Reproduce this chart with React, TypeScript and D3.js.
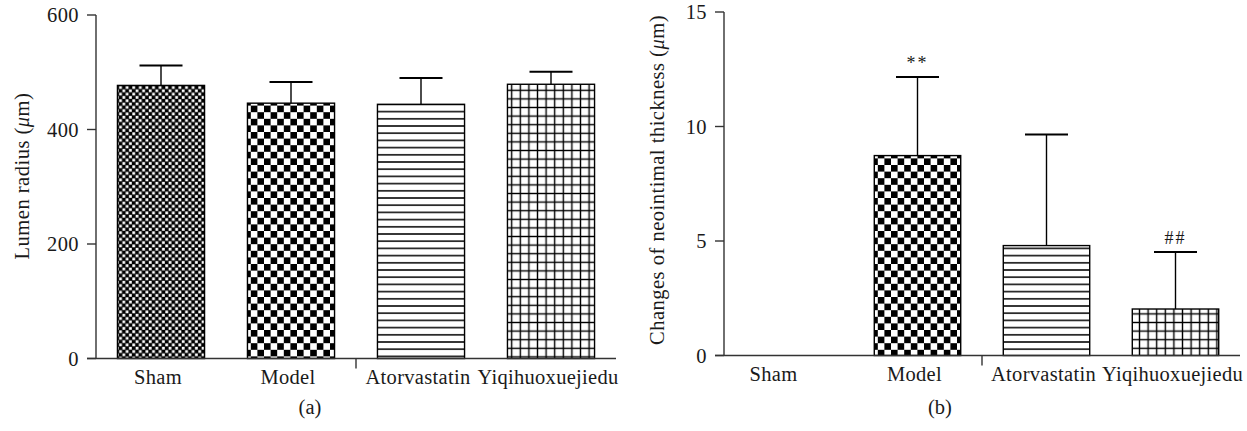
import React from "react";
import * as d3 from "d3";

// groups on the x axis
const categories = ["Sham", "Model", "Atorvastatin", "Yiqihuoxuejiedu"];

// (a) lumen radius, mean and upper error (um)
const lumenMean = [477, 446, 444, 479];
const lumenErr = [35, 37, 46, 22];
const lumenTicks = [0, 200, 400, 600];

// (b) changes of neointimal thickness, mean and upper error (um)
const thickMean = [0, 8.73, 4.8, 2.03];
const thickErr = [0, 3.43, 4.85, 2.49];
const thickTicks = [0, 5, 10, 15];
const thickMarks = ["", "**", "", "##"];

const patternIds = ["pSham", "pModel", "pAtor", "pYiqi"];

const FONT = "'Liberation Serif', 'Times New Roman', serif";
const INK = "#1a1a1a";
const FS = 20.5;

interface PanelProps {
  left: number;
  right: number;
  top: number;
  bottom: number;
  domainMax: number;
  ticks: number[];
  means: number[];
  errs: number[];
  marks?: string[];
  label: string;
  labelX: number;
  labelY: number;
  letter: string;
  letterX: number;
  firstLabelShift?: number;
}

const Panel: React.FC<PanelProps> = (p) => {
  const x = d3
    .scaleBand<string>()
    .domain(categories)
    .range([p.left, p.right])
    .paddingInner(0.33)
    .paddingOuter(0.165);
  const y = d3.scaleLinear().domain([0, p.domainMax]).range([p.bottom, p.top]);
  const bw = x.bandwidth();

  // small tick between Model and Atorvastatin
  const sepX = (x("Model")! + bw + x("Atorvastatin")!) / 2;

  return (
    <g fontFamily={FONT} fill={INK}>
      {/* bars */}
      {categories.map((c, i) => {
        const v = p.means[i];
        if (v <= 0) return null;
        const bx = x(c)!;
        const by = y(v);
        return (
          <rect
            key={c}
            x={bx}
            y={by}
            width={bw}
            height={p.bottom - by}
            fill={`url(#${patternIds[i]})`}
            stroke="#000"
            strokeWidth={1.4}
          />
        );
      })}

      {/* error bars */}
      {categories.map((c, i) => {
        if (p.errs[i] <= 0) return null;
        const cx = x(c)! + bw / 2;
        const y0 = y(p.means[i]);
        const y1 = y(p.means[i] + p.errs[i]);
        return (
          <g key={"e" + c} stroke="#000">
            <line x1={cx} x2={cx} y1={y0} y2={y1} strokeWidth={1.4} />
            <line x1={cx - 21.5} x2={cx + 21.5} y1={y1} y2={y1} strokeWidth={2} />
            {p.marks && p.marks[i] ? (
              <text
                x={cx}
                y={y1 - 8}
                textAnchor="middle"
                fontSize={18}
                stroke="none"
                letterSpacing={2}
              >
                {p.marks[i]}
              </text>
            ) : null}
          </g>
        );
      })}

      {/* y axis */}
      <line x1={p.left} x2={p.left} y1={p.top} y2={p.bottom} stroke="#333" strokeWidth={1.4} />
      {p.ticks.map((t) => (
        <g key={t}>
          <line x1={p.left - 9} x2={p.left} y1={y(t)} y2={y(t)} stroke="#333" strokeWidth={1.4} />
          <text
            x={p.left - 17}
            y={y(t)}
            dy="0.35em"
            textAnchor="end"
            fontSize={FS}
            letterSpacing={0.4}
          >
            {t}
          </text>
        </g>
      ))}

      {/* x axis */}
      <line x1={p.left - 9} x2={p.right} y1={p.bottom} y2={p.bottom} stroke="#333" strokeWidth={1.4} />
      <line x1={sepX} x2={sepX} y1={p.bottom} y2={p.bottom + 10} stroke="#333" strokeWidth={1.4} />
      {categories.map((c, i) => (
        <text
          key={"l" + c}
          x={x(c)! + bw / 2 - 3 + (i === 0 ? p.firstLabelShift || 0 : 0)}
          y={p.bottom + 25}
          textAnchor="middle"
          fontSize={FS}
          letterSpacing={0.3}
        >
          {c}
        </text>
      ))}

      {/* y label */}
      <text
        transform={`translate(${p.labelX},${p.labelY}) rotate(-90)`}
        textAnchor="middle"
        dy="0.35em"
        fontSize={FS}
        letterSpacing={0.5}
      >
        {p.label} (<tspan fontStyle="italic">μ</tspan>m)
      </text>

      {/* panel letter */}
      <text x={p.letterX} y={414} textAnchor="middle" fontSize={FS}>
        {p.letter}
      </text>
    </g>
  );
};

export default function App() {
  return (
    <svg
      width={1247}
      height={431}
      style={{ position: "absolute", left: 0, top: 0, background: "#fff" }}
    >
      <defs>
        <pattern id="pSham" patternUnits="userSpaceOnUse" width={6.6} height={6.6}>
          <rect width={6.6} height={6.6} fill="#000" />
          <rect x={0.3} y={0.3} width={2.8} height={2.8} fill="#fff" />
          <rect x={3.6} y={3.6} width={2.8} height={2.8} fill="#fff" />
        </pattern>
        <pattern id="pModel" patternUnits="userSpaceOnUse" width={13.2} height={13.2}>
          <rect width={13.2} height={13.2} fill="#fff" />
          <rect width={6.6} height={6.6} fill="#000" />
          <rect x={6.6} y={6.6} width={6.6} height={6.6} fill="#000" />
        </pattern>
        <pattern id="pAtor" patternUnits="userSpaceOnUse" width={10} height={7.2}>
          <rect width={10} height={7.2} fill="#fff" />
          <line x1={0} x2={10} y1={3.6} y2={3.6} stroke="#000" strokeWidth={1.5} />
        </pattern>
        <pattern id="pYiqi" patternUnits="userSpaceOnUse" width={8.6} height={8.6}>
          <rect width={8.6} height={8.6} fill="#fff" />
          <line x1={0} x2={8.6} y1={4.3} y2={4.3} stroke="#000" strokeWidth={1.4} />
          <line x1={4.3} x2={4.3} y1={0} y2={8.6} stroke="#000" strokeWidth={1.4} />
        </pattern>
      </defs>

      <Panel
        left={96}
        right={616}
        top={15}
        bottom={358.5}
        domainMax={600}
        ticks={lumenTicks}
        means={lumenMean}
        errs={lumenErr}
        label="Lumen radius"
        labelX={22}
        labelY={176}
        letter="(a)"
        letterX={310}
      />
      <Panel
        left={724}
        right={1240}
        top={12}
        bottom={355.5}
        domainMax={15}
        ticks={thickTicks}
        means={thickMean}
        errs={thickErr}
        marks={thickMarks}
        label="Changes of neointimal thickness"
        labelX={657}
        labelY={180}
        letter="(b)"
        letterX={940}
        firstLabelShift={-12}
      />
    </svg>
  );
}
